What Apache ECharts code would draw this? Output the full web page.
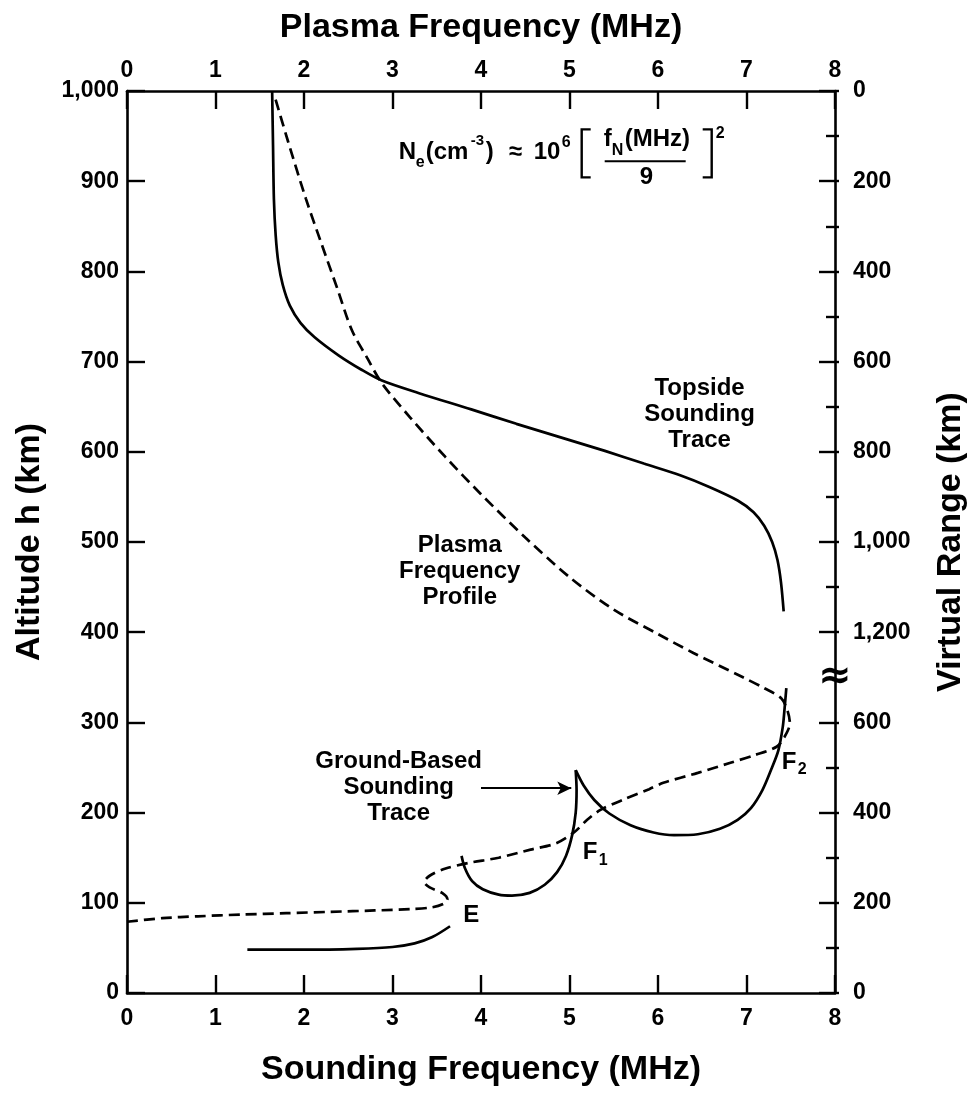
<!DOCTYPE html>
<html>
<head>
<meta charset="utf-8">
<script src="https://cdn.jsdelivr.net/npm/echarts@6/dist/echarts.min.js"></script>
<style>
html, body { margin: 0; padding: 0; background: #fff; }
#main { width: 976px; height: 1093px; }
</style>
</head>
<body>
<div id="main"></div>
<script>
/*########  数据  ########*/
// [frequency MHz, altitude km]
var plasmaProfile = [
    [0, 79], [0.4, 83], [0.8, 85], [1.3, 87], [1.8, 88.5], [2.3, 90], [2.8, 91.5], [3.2, 93],
    [3.45, 95], [3.58, 99], [3.62, 104], [3.56, 111], [3.42, 117], [3.36, 123], [3.42, 130],
    [3.6, 138], [3.85, 144], [4.2, 150], [4.56, 159], [4.85, 166], [5.05, 178], [5.2, 192],
    [5.35, 203], [5.6, 214], [5.9, 226], [6.06, 233], [6.45, 244], [6.81, 255], [7.1, 264],
    [7.34, 273], [7.43, 284], [7.49, 299], [7.46, 314], [7.39, 327], [7.2, 338], [6.96, 350],
    [6.4, 377], [6.0, 398], [5.5, 425], [5.0, 461], [4.5, 505], [4.0, 553], [3.6, 594],
    [3.2, 638], [2.88, 676], [2.72, 703], [2.54, 735], [2.38, 780], [2.2, 830], [2.02, 881],
    [1.82, 944], [1.66, 997]
];
var topsideTrace = [
    [1.64, 1000], [1.65, 940], [1.66, 880], [1.68, 840], [1.71, 810], [1.76, 785], [1.84, 762],
    [1.96, 743], [2.12, 727], [2.39, 707], [2.65, 691], [2.88, 679], [3.3, 665], [3.89, 647],
    [4.4, 631], [4.9, 616], [5.4, 601], [5.84, 587], [6.25, 574], [6.58, 561], [6.9, 546],
    [7.08, 533], [7.2, 518], [7.29, 500], [7.35, 480], [7.39, 455], [7.42, 423]
];
var groundE = [
    [1.36, 48], [2.0, 48], [2.6, 49], [3.0, 51], [3.25, 55], [3.45, 62], [3.65, 74]
];
var groundF1 = [
    [3.78, 152], [3.82, 138], [3.9, 124], [4.02, 115], [4.2, 109], [4.35, 108], [4.55, 111],
    [4.72, 120], [4.86, 134], [4.96, 152], [5.03, 175], [5.07, 200], [5.08, 225], [5.07, 247]
];
var groundF2 = [
    [5.07, 247], [5.16, 230], [5.28, 214], [5.45, 199], [5.69, 186], [5.95, 178], [6.18, 175],
    [6.45, 176], [6.7, 182], [6.9, 192], [7.05, 205], [7.18, 225], [7.28, 248], [7.36, 269],
    [7.41, 295], [7.43, 315], [7.45, 338]
];
var arrowFrom = [4.0, 227];
var arrowTo = [5.02, 227];

// 刻度
var freqMin = 0, freqMax = 8, freqStep = 1;
var altMin = 0, altMax = 1000, altStep = 100;
var breakAlt = 350;                       // 右轴断开处 (km)
var rangeUpperLabels = [0, 200, 400, 600, 800, 1000, 1200];
var rangeUpperMinor = [100, 300, 500, 700, 900, 1100];
var rangeLowerLabels = [0, 200, 400, 600];
var rangeLowerMinor = [100, 300, 500];

/*########  样式  ########*/
var FONT = 'Liberation Sans';
var plotLeft = 127, plotRight = 137, plotTop = 91, plotBottom = 100;
var plotH = 1093 - plotTop - plotBottom;
var breakY = plotTop + plotH * (altMax - breakAlt) / (altMax - altMin);

function fmt(v) {
    return v >= 1000 ? String(v).replace(/(\d)(\d{3})$/, '$1,$2') : String(v);
}
var tickLabel = { color: '#000', fontFamily: FONT, fontWeight: 'bold', fontSize: 23 };
var nameStyle = { color: '#000', fontFamily: FONT, fontWeight: 'bold', fontSize: 34 };
var axisLine = { show: true, onZero: false, lineStyle: { color: '#000', width: 2.6 } };
var majorTick = { show: true, inside: true, length: 18, lineStyle: { color: '#000', width: 2.4 } };

var dom = document.getElementById('main');
var myChart = echarts.init(dom, null, { renderer: 'canvas' });

var lineW = 2.7;
function curve(name, data, dashed) {
    return {
        name: name,
        type: 'line',
        xAxisIndex: 0,
        yAxisIndex: 0,
        data: data,
        smooth: 0.3,
        symbol: 'none',
        silent: true,
        lineStyle: { color: '#000', width: lineW, type: dashed ? [11, 6] : 'solid' }
    };
}

// 右侧虚拟距离轴 (断开的两段, 各用一个 grid)
function rangeAxis(grid, inverse, max, labels, ticks, tickLen) {
    return {
        gridIndex: grid, type: 'value', position: 'right', inverse: inverse,
        min: 0, max: max,
        axisLine: { show: false, onZero: false }, splitLine: { show: false },
        axisTick: ticks ? Object.assign({}, majorTick, { length: tickLen, customValues: ticks }) : { show: false },
        axisLabel: labels ? Object.assign({ customValues: labels, margin: 14, formatter: fmt }, tickLabel) : { show: false }
    };
}
var upperMax = (altMax - breakAlt) * 2;
var lowerMax = breakAlt * 2;

var option = {
    animation: false,
    backgroundColor: '#fff',
    grid: [
        { left: plotLeft, right: plotRight, top: plotTop, bottom: plotBottom },
        { left: plotLeft, right: plotRight, top: plotTop, bottom: 1093 - breakY },
        { left: plotLeft, right: plotRight, top: breakY, bottom: plotBottom }
    ],
    xAxis: [
        {
            gridIndex: 0, type: 'value', position: 'bottom',
            min: freqMin, max: freqMax, interval: freqStep,
            name: 'Sounding Frequency (MHz)', nameLocation: 'middle', nameGap: 60,
            nameTextStyle: nameStyle,
            axisLine: axisLine, axisTick: majorTick, splitLine: { show: false },
            axisLabel: Object.assign({ margin: 14 }, tickLabel)
        },
        {
            gridIndex: 0, type: 'value', position: 'top',
            min: freqMin, max: freqMax, interval: freqStep,
            name: 'Plasma Frequency (MHz)', nameLocation: 'middle', nameGap: 46,
            nameTextStyle: nameStyle,
            axisLine: axisLine, axisTick: majorTick, splitLine: { show: false },
            axisLabel: Object.assign({ margin: 9 }, tickLabel)
        },
        { gridIndex: 1, type: 'value', show: false, min: 0, max: 1 },
        { gridIndex: 2, type: 'value', show: false, min: 0, max: 1 }
    ],
    yAxis: [
        {
            gridIndex: 0, type: 'value', position: 'left',
            min: altMin, max: altMax, interval: altStep,
            name: 'Altitude h (km)', nameLocation: 'middle', nameGap: 80, nameRotate: 90,
            nameTextStyle: nameStyle,
            axisLine: axisLine, axisTick: majorTick, splitLine: { show: false },
            axisLabel: Object.assign({ margin: 8, formatter: fmt }, tickLabel)
        },
        {
            gridIndex: 0, type: 'value', position: 'right',
            min: altMin, max: altMax,
            name: 'Virtual Range (km)', nameLocation: 'middle', nameGap: 99, nameRotate: 90,
            nameTextStyle: nameStyle,
            axisLine: axisLine, axisTick: { show: false }, axisLabel: { show: false },
            splitLine: { show: false }
        },
        rangeAxis(1, true, upperMax, rangeUpperLabels, null, 0),
        rangeAxis(1, true, upperMax, null, rangeUpperLabels, 20),
        rangeAxis(1, true, upperMax, null, rangeUpperMinor, 13),
        rangeAxis(2, false, lowerMax, rangeLowerLabels, null, 0),
        rangeAxis(2, false, lowerMax, null, rangeLowerLabels, 20),
        rangeAxis(2, false, lowerMax, null, rangeLowerMinor, 13)
    ],
    series: [
        curve('Plasma Frequency Profile', plasmaProfile, true),
        curve('Topside Sounding Trace', topsideTrace, false),
        curve('E', groundE, false),
        Object.assign(curve('F1', groundF1, false), {
            markLine: {
                silent: true,
                symbol: ['none', 'arrow'],
                symbolSize: [10, 14],
                label: { show: false },
                lineStyle: { color: '#000', width: 1.8, type: 'solid' },
                data: [[{ coord: arrowFrom }, { coord: arrowTo }]]
            }
        }),
        curve('F2', groundF2, false)
    ]
};
myChart.setOption(option);

/*########  注释文字  ########*/
function px(p) { return myChart.convertToPixel({ gridIndex: 0 }, p); }
function txt(text, x, y, size, extra) {
    return Object.assign({
        type: 'text', x: x, y: y, silent: true,
        style: {
            text: text, fill: '#000', font: 'bold ' + size + 'px "' + FONT + '"',
            align: 'left', verticalAlign: 'middle'
        }
    }, extra || {});
}
function block(text, p) {
    var c = px(p);
    return {
        type: 'text', x: c[0], y: c[1], silent: true,
        style: {
            text: text, fill: '#000', font: 'bold 24px "' + FONT + '"',
            align: 'center', verticalAlign: 'middle', lineHeight: 26
        }
    };
}
function layerLabel(main, sub, p) {
    var c = px(p);
    return {
        type: 'group', x: c[0], y: c[1], silent: true,
        children: [
            txt(main, -8, 0, 24),
            txt(sub, 8, 8, 16)
        ]
    };
}
var formulaAt = px([3.07, 932]);
var ePos = px([3.89, 86]);
var axisRightX = px([freqMax, breakAlt])[0];
var bracket = { stroke: '#000', lineWidth: 2.4, fill: null };

myChart.setOption({
    graphic: [
        block('Topside\nSounding\nTrace', [6.47, 642]),
        block('Plasma\nFrequency\nProfile', [3.76, 467]),
        block('Ground-Based\nSounding\nTrace', [3.07, 228]),
        txt('E', ePos[0] - 8, ePos[1], 24),
        layerLabel('F', '1', [5.24, 156]),
        layerLabel('F', '2', [7.49, 256]),
        {
            type: 'text', x: axisRightX, y: breakY, silent: true,
            style: { text: '\u2248', fill: '#000', font: 'bold 40px "DejaVu Sans"', align: 'center', verticalAlign: 'middle' }
        },
        {
            type: 'group', x: formulaAt[0], y: formulaAt[1], silent: true,
            children: [
                txt('N', 0, 0, 24),
                txt('e', 17, 10, 16),
                txt('(cm', 27, 0, 24),
                txt('-3', 72, -11, 15),
                txt(')', 87, 0, 24),
                txt('\u2248', 110, 0, 24),
                txt('10', 135, 0, 24),
                txt('6', 163, -10, 16),
                { type: 'polyline', shape: { points: [[192, -23], [183, -23], [183, 25], [192, 25]] }, style: bracket },
                txt('f', 205, -13, 24),
                txt('N', 213, -2, 16),
                txt('(MHz)', 226, -13, 24),
                { type: 'line', shape: { x1: 206, y1: 9, x2: 287, y2: 9 }, style: { stroke: '#000', lineWidth: 2 } },
                txt('9', 241, 25, 24),
                { type: 'polyline', shape: { points: [[304, -23], [313, -23], [313, 25], [304, 25]] }, style: bracket },
                txt('2', 317, -19, 16)
            ]
        }
    ]
});
</script>
</body>
</html>
